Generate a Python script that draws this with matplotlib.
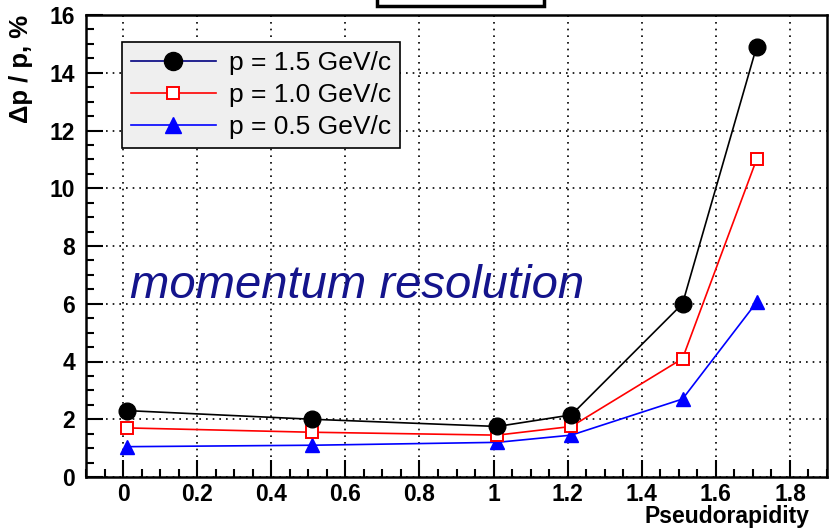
import matplotlib.pyplot as plt
from matplotlib.lines import Line2D
from matplotlib.patches import Rectangle
from matplotlib.ticker import MultipleLocator

plt.rcParams["font.family"] = ["Liberation Sans", "DejaVu Sans"]

eta = [0.01, 0.51, 1.01, 1.21, 1.51, 1.71]
res_15 = [2.3, 2.0, 1.75, 2.15, 6.0, 14.9]
res_10 = [1.7, 1.55, 1.45, 1.75, 4.1, 11.0]
res_05 = [1.05, 1.1, 1.2, 1.45, 2.7, 6.05]
labels = ["p = 1.5 GeV/c", "p = 1.0 GeV/c", "p = 0.5 GeV/c"]

fig = plt.figure(figsize=(8.32, 5.32), dpi=100)
ax = fig.add_axes([86 / 832, 1 - 477 / 532, 741 / 832, 462 / 532])

ax.plot(eta, res_15, color="black", lw=1.2, marker="o", ms=12, mfc="black", mec="black", zorder=5)
ax.plot(eta, res_10, color="red", lw=1.2, marker="s", ms=8, mfc="white", mec="red", mew=1.4, zorder=4)
ax.plot(eta, res_05, color="blue", lw=1.2, marker="^", ms=10, mfc="blue", mec="blue", zorder=3)

ax.set_xlim(-0.1, 1.9)
ax.set_ylim(0, 16)
ax.xaxis.set_minor_locator(MultipleLocator(0.05))
ax.yaxis.set_major_locator(MultipleLocator(2))
ax.yaxis.set_minor_locator(MultipleLocator(0.5))
ax.set_xticks([0, 0.2, 0.4, 0.6, 0.8, 1.0, 1.2, 1.4, 1.6, 1.8])
ax.set_xticklabels(["0", "0.2", "0.4", "0.6", "0.8", "1", "1.2", "1.4", "1.6", "1.8"])
ax.tick_params(which="both", direction="in", width=1.5, top=False, right=False)
ax.tick_params(which="major", length=12, labelsize=16.5)
ax.tick_params(which="minor", length=6)
ax.tick_params(axis="x", which="major", pad=4)
ax.tick_params(axis="y", which="major", pad=8)
for lab in ax.get_xticklabels() + ax.get_yticklabels():
    lab.set_fontweight("bold")
ax.grid(True, which="major", color="black", linestyle=(0, (1, 3)), lw=1.2)
for sp in ax.spines.values():
    sp.set_linewidth(1.8)

ax.set_xlabel("Pseudorapidity", fontsize=16.5, fontweight="bold")
ax.xaxis.set_label_coords((810 - 86) / 741, -(505 - 477) / 462)
ax.xaxis.label.set_horizontalalignment("right")
ax.xaxis.label.set_verticalalignment("top")
ax.set_ylabel("Δp / p, %", fontsize=18.5, fontweight="bold", loc="top", labelpad=12)

ax.text(0.02, 6.6, "momentum resolution", fontsize=34, style="italic",
        color="#14148c", va="center", ha="left")

handles = [
    Line2D([], [], color="navy", lw=1.2, marker="o", ms=13, mfc="black", mec="black"),
    Line2D([], [], color="red", lw=1.2, marker="s", ms=8, mfc="white", mec="red", mew=1.4),
    Line2D([], [], color="blue", lw=1.2, marker="^", ms=11, mfc="blue", mec="blue"),
]
leg = ax.legend(handles, labels, loc="upper left", bbox_to_anchor=(36 / 741, 1 - 27 / 462),
                borderaxespad=0, fontsize=19, frameon=True, fancybox=False, borderpad=0.35,
                labelspacing=0.3, handlelength=3.2, handletextpad=0.5)
leg.get_frame().set_facecolor("#efefef")
leg.get_frame().set_edgecolor("black")
leg.get_frame().set_linewidth(1.2)
leg.get_frame().set_alpha(1)

# clipped title box at the top edge
fig.patches.append(Rectangle((377 / 832, 1 - 6 / 532), 167 / 832, 10 / 532,
                             transform=fig.transFigure, facecolor="white",
                             edgecolor="black", lw=2.5))

fig.savefig("out.png", dpi=100)
